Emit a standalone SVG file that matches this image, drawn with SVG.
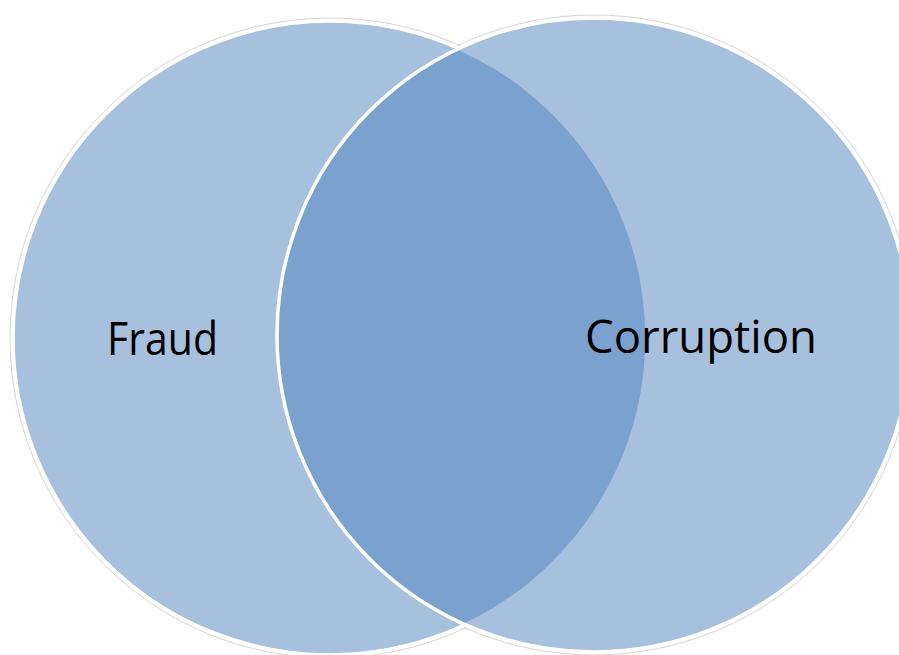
<svg xmlns="http://www.w3.org/2000/svg" width="899" height="655" viewBox="0 0 899 655">
  <style>
    .halo { fill: none; stroke: #cfcfcf; stroke-width: 0.9; }
    .base { fill: #ffffff; }
    .set { fill: #4f81bd; fill-opacity: 0.5; stroke: #ffffff; stroke-width: 3.5; }
    .label { font-family: "Open Sans", "Noto Sans", "Liberation Sans", sans-serif; font-size: 45px; fill: #000000; }
  </style>
  <rect width="899" height="655" fill="#ffffff"/>
  <!-- faint outer rim of the union, then a white base so the rim only shows outside -->
  <g id="rim">
    <circle class="halo" cx="330" cy="338" r="320"/>
    <circle class="halo" cx="594" cy="335" r="320"/>
    <circle class="base" cx="330" cy="338" r="319"/>
    <circle class="base" cx="594" cy="335" r="319"/>
  </g>
  <g id="fraud">
    <circle class="set" cx="330" cy="338" r="317"/>
    <text class="label" x="107" y="355" textLength="111" lengthAdjust="spacingAndGlyphs">Fraud</text>
  </g>
  <g id="corruption">
    <circle class="set" cx="594" cy="335" r="317"/>
    <text class="label" x="585" y="353" textLength="232" lengthAdjust="spacingAndGlyphs">Corruption</text>
  </g>
</svg>
